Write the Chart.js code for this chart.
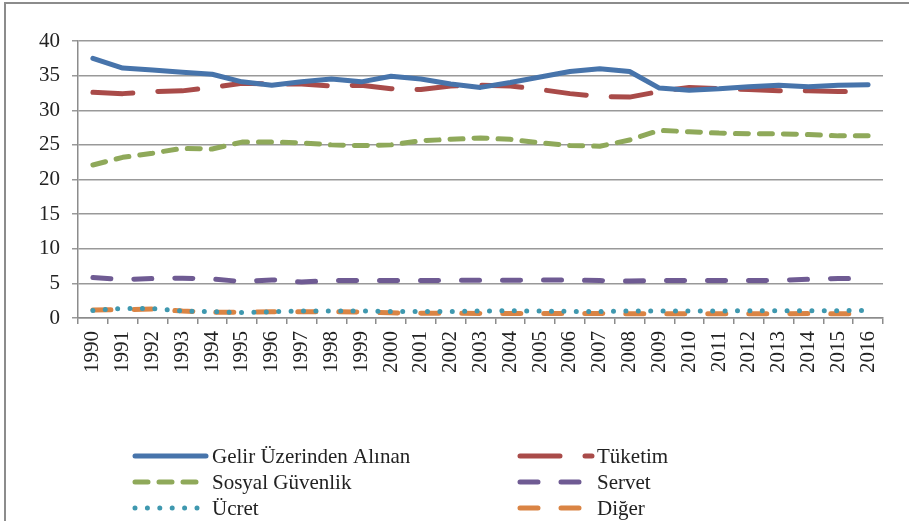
<!DOCTYPE html>
<html lang="tr">
<head>
  <meta charset="UTF-8" />
  <title>Vergi Gelirleri</title>
  <script src="https://cdn.jsdelivr.net/npm/chart.js"></script>
  <style>
    html, body { margin: 0; padding: 0; background: #fff; }
    #wrap { width: 909px; height: 521px; position: relative; }
  </style>
</head>
<body>
  <div id="wrap"><canvas id="chart" width="909" height="521"></canvas></div>
  <script>
    const years = ['1990','1991','1992','1993','1994','1995','1996','1997','1998','1999','2000','2001','2002',
                   '2003','2004','2005','2006','2007','2008','2009','2010','2011','2012','2013','2014','2015','2016'];

    const gelir   = [37.5, 36.1, 35.8, 35.5, 35.2, 34.1, 33.6, 34.1, 34.5, 34.1, 34.9, 34.5, 33.8,
                     33.3, 34.0, 34.8, 35.6, 36.0, 35.6, 33.2, 32.9, 33.1, 33.4, 33.6, 33.4, 33.6, 33.7];
    const tuketim = [32.6, 32.4, 32.7, 32.8, 33.3, 33.9, 33.8, 33.8, 33.5, 33.6, 33.1, 33.0, 33.5,
                     33.6, 33.5, 33.0, 32.4, 32.0, 31.9, 32.7, 33.3, 33.1, 33.0, 32.8, 32.8, 32.7, 32.7];
    const sosyal  = [22.1, 23.2, 23.8, 24.5, 24.4, 25.4, 25.4, 25.3, 25.0, 24.9, 25.0, 25.6, 25.8,
                     26.0, 25.8, 25.3, 24.9, 24.8, 25.7, 27.1, 26.9, 26.7, 26.6, 26.6, 26.5, 26.3, 26.3];
    const servet  = [5.85, 5.55, 5.7, 5.75, 5.65, 5.25, 5.5, 5.2, 5.4, 5.4, 5.4, 5.4, 5.45,
                     5.45, 5.45, 5.5, 5.5, 5.4, 5.35, 5.4, 5.4, 5.4, 5.4, 5.45, 5.6, 5.7, 5.75];
    const ucret   = [1.1, 1.4, 1.35, 1.0, 0.9, 0.8, 0.9, 1.0, 1.0, 1.0, 0.95, 0.95, 0.95,
                     1.0, 1.05, 1.0, 0.95, 0.95, 1.0, 1.0, 1.0, 1.0, 1.05, 1.05, 1.05, 1.05, 1.1];
    const diger   = [1.15, 1.2, 1.3, 1.0, 0.85, 0.8, 0.9, 0.9, 0.9, 0.85, 0.75, 0.7, 0.7,
                     0.65, 0.65, 0.65, 0.65, 0.65, 0.6, 0.6, 0.6, 0.6, 0.6, 0.6, 0.65, 0.6, 0.6];

    const yTicks = { min: 0, max: 40, step: 5 };

    const serif = '"Liberation Serif", "Times New Roman", serif';

    function line(label, data, color, dash) {
      return {
        label: label,
        data: data,
        borderColor: color,
        backgroundColor: color,
        borderWidth: 5,
        borderDash: dash,
        borderCapStyle: 'round',
        borderJoinStyle: 'round',
        pointRadius: 0,
        tension: 0,
        fill: false
      };
    }

    // order of datasets = order of legend (row by row, two columns)
    const datasets = [
      line('Gelir Üzerinden Alınan', gelir, '#4774AB', []),
      line('Tüketim', tuketim, '#A94B49', [40, 25]),
      line('Sosyal Güvenlik', sosyal, '#8FA95A', [13, 11]),
      line('Servet', servet, '#6F5B93', [18, 23]),
      line('Ücret', ucret, '#3F98AF', [0, 12.4]),
      line('Diğer', diger, '#DA8444', [18, 23])
    ];

    const frame = {
      id: 'frame',
      beforeDraw(chart) {
        const c = chart.ctx;
        c.save();
        c.strokeStyle = '#8c8c8c';
        c.lineWidth = 2;
        c.beginPath();
        c.moveTo(5, 521);
        c.lineTo(5, 3);
        c.lineTo(909, 3);
        c.stroke();
        c.restore();
      }
    };

    const legend = {
      id: 'twoColLegend',
      afterDraw(chart) {
        const c = chart.ctx;
        const cols = [{ x0: 135, x1: 206, tx: 212 }, { x0: 520, x1: 592, tx: 597 }];
        const rows = [456, 482, 508];
        c.save();
        chart.data.datasets.forEach((ds, i) => {
          const col = cols[i % 2];
          const y = rows[Math.floor(i / 2)];
          c.strokeStyle = ds.borderColor;
          c.lineWidth = 5;
          c.lineCap = 'round';
          c.setLineDash(ds.borderDash);
          c.beginPath();
          c.moveTo(col.x0, y);
          c.lineTo(col.x1, y);
          c.stroke();
          c.setLineDash([]);
          c.fillStyle = '#222';
          c.font = '21px ' + serif;
          c.textBaseline = 'middle';
          c.fillText(ds.label, col.tx, y + 1);
        });
        c.restore();
      }
    };

    new Chart(document.getElementById('chart'), {
      type: 'line',
      data: { labels: years, datasets: datasets },
      plugins: [frame, legend],
      options: {
        responsive: false,
        animation: false,
        layout: { padding: { top: 41, right: 26, left: 0, bottom: 0 } },
        plugins: { legend: { display: false }, tooltip: { enabled: false } },
        scales: {
          x: {
            offset: true,
            afterFit(scale) { scale.height = 203; },
            grid: {
              offset: true,
              drawOnChartArea: false,
              drawTicks: true,
              tickLength: 6,
              color: '#8c8c8c',
              lineWidth: 1.5
            },
            border: { color: '#8c8c8c', width: 1.5 },
            ticks: {
              minRotation: 90,
              maxRotation: 90,
              autoSkip: false,
              padding: 7,
              color: '#222',
              font: { family: serif, size: 21 }
            }
          },
          y: {
            min: yTicks.min,
            max: yTicks.max,
            afterFit(scale) { scale.width = 78; },
            grid: {
              color: '#999',
              lineWidth: 1.5,
              tickLength: 6
            },
            border: { color: '#8c8c8c', width: 1.5 },
            ticks: {
              stepSize: yTicks.step,
              padding: 12,
              color: '#222',
              font: { family: serif, size: 21 }
            }
          }
        }
      }
    });
  </script>
</body>
</html>
